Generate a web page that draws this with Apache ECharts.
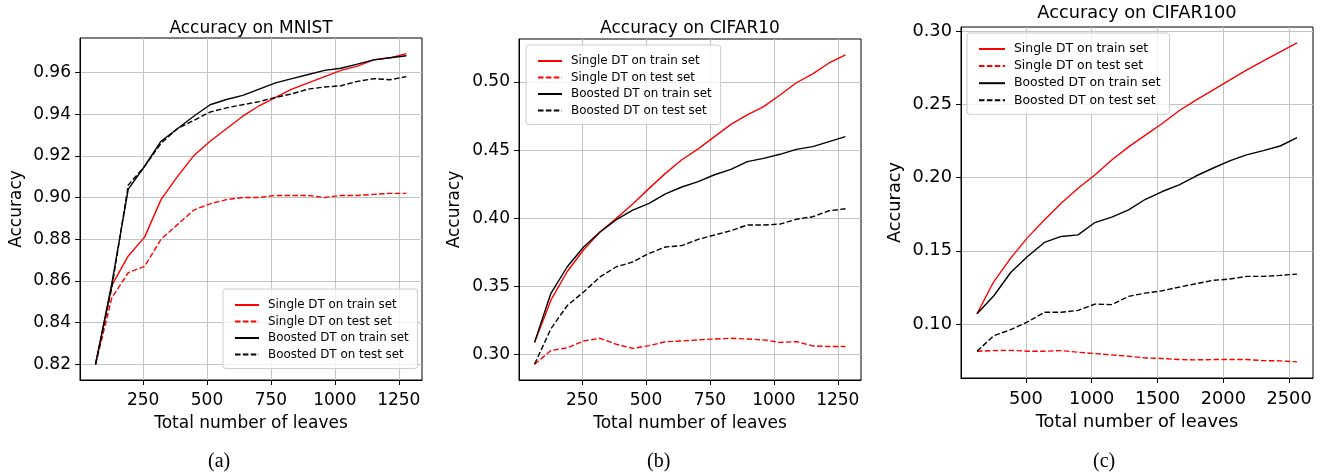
<!DOCTYPE html>
<html>
<head>
<meta charset="utf-8">
<script src="https://cdn.jsdelivr.net/npm/echarts@6/dist/echarts.min.js"></script>
<style>
html,body{margin:0;padding:0;background:#fff;}
#chart{width:1320px;height:472px;}
</style>
</head>
<body>
<div id="chart"></div>
<script>
// ---------- data ----------
const seriesNames = ['Single DT on train set', 'Single DT on test set', 'Boosted DT on train set', 'Boosted DT on test set'];

const leavesSmall = [64,128,192,256,320,384,448,512,576,640,704,768,832,896,960,1024,1088,1152,1216,1280];
const leavesLarge = [128,256,384,512,640,768,896,1024,1152,1280,1408,1536,1664,1792,1920,2048,2176,2304,2432,2560];

const mnistSingleTrain  = [0.820,0.858,0.872,0.881,0.899,0.910,0.920,0.927,0.933,0.939,0.944,0.948,0.952,0.955,0.958,0.961,0.963,0.966,0.967,0.969];
const mnistSingleTest   = [0.820,0.852,0.864,0.867,0.880,0.887,0.894,0.897,0.899,0.900,0.900,0.901,0.901,0.901,0.900,0.901,0.901,0.9015,0.902,0.902];
const mnistBoostedTrain = [0.820,0.859,0.904,0.915,0.927,0.933,0.939,0.9445,0.947,0.949,0.952,0.955,0.957,0.959,0.961,0.962,0.964,0.966,0.967,0.968];
const mnistBoostedTest  = [0.820,0.857,0.906,0.915,0.926,0.933,0.937,0.941,0.943,0.9445,0.946,0.948,0.9497,0.952,0.953,0.9536,0.9557,0.957,0.9565,0.958];

const cifar10SingleTrain  = [0.309,0.340,0.361,0.377,0.390,0.400,0.4105,0.422,0.433,0.443,0.451,0.460,0.469,0.476,0.482,0.4905,0.4995,0.506,0.514,0.520];
const cifar10SingleTest   = [0.293,0.303,0.305,0.310,0.312,0.3076,0.3046,0.3066,0.3095,0.310,0.3108,0.3115,0.312,0.3115,0.3108,0.309,0.3095,0.3064,0.306,0.306];
const cifar10BoostedTrain = [0.309,0.345,0.3645,0.379,0.390,0.399,0.406,0.411,0.418,0.423,0.427,0.432,0.436,0.4416,0.444,0.447,0.4506,0.4526,0.4563,0.460];
const cifar10BoostedTest  = [0.293,0.319,0.336,0.346,0.357,0.3645,0.368,0.3743,0.379,0.380,0.3846,0.3878,0.391,0.3951,0.3951,0.3958,0.3993,0.4012,0.4056,0.407];

const cifar100SingleTrain  = [0.107,0.129,0.145,0.159,0.171,0.1825,0.1927,0.2018,0.212,0.221,0.229,0.237,0.2457,0.253,0.2598,0.2666,0.2734,0.2798,0.2859,0.292];
const cifar100SingleTest   = [0.0814,0.0818,0.082,0.0814,0.0814,0.0818,0.0807,0.0798,0.0789,0.078,0.0768,0.0764,0.0757,0.0755,0.0757,0.0757,0.0757,0.075,0.0748,0.0741];
const cifar100BoostedTrain = [0.107,0.1193,0.1352,0.1461,0.1557,0.1598,0.1609,0.1693,0.173,0.178,0.1852,0.1905,0.195,0.2011,0.2064,0.2114,0.2155,0.2184,0.2216,0.2273];
const cifar100BoostedTest  = [0.0814,0.092,0.0961,0.1014,0.108,0.108,0.1093,0.1136,0.1132,0.1189,0.1211,0.1227,0.1252,0.1275,0.1298,0.1307,0.1325,0.1325,0.1332,0.1341];

const xTicksSmall = [250,500,750,1000,1250];
const xTicksLarge = [500,1000,1500,2000,2500];
const yTicksMnist = [0.82,0.84,0.86,0.88,0.90,0.92,0.94,0.96];
const yTicksCifar10 = [0.30,0.35,0.40,0.45,0.50];
const yTicksCifar100 = [0.10,0.15,0.20,0.25,0.30];

const titles = ['Accuracy on MNIST','Accuracy on CIFAR10','Accuracy on CIFAR100'];
const captions = ['(a)','(b)','(c)'];
const xName = 'Total number of leaves';
const yName = 'Accuracy';

// ---------- build ----------
const FONT = 'DejaVu Sans';
const panels = [
  {grid:{left:80,top:38,width:342,height:342}, xr:[3.2,1340.8], yr:[0.8125,0.9765], xt:xTicksSmall, yt:yTicksMnist,
   x:leavesSmall, d:[mnistSingleTrain,mnistSingleTest,mnistBoostedTrain,mnistBoostedTest],
   fs:17, lfs:11.9, titleX:251, titleY:20, capX:218, yGap:55, legend:{left:223,top:289}, iw:24, rowH:17},
  {grid:{left:519,top:39,width:342,height:341}, xr:[3.2,1340.8], yr:[0.2814,0.5316], xt:xTicksSmall, yt:yTicksCifar10,
   x:leavesSmall, d:[cifar10SingleTrain,cifar10SingleTest,cifar10BoostedTrain,cifar10BoostedTest],
   fs:17, lfs:11.9, titleX:690, titleY:20, capX:657, yGap:56, legend:{left:526,top:45}, iw:24, rowH:17},
  {grid:{left:961,top:27,width:352,height:351}, xr:[6.4,2681.6], yr:[0.0631,0.3029], xt:xTicksLarge, yt:yTicksCifar100,
   x:leavesLarge, d:[cifar100SingleTrain,cifar100SingleTest,cifar100BoostedTrain,cifar100BoostedTest],
   fs:17.8, lfs:12.4, titleX:1137, titleY:4, capX:1103, yGap:57, legend:{left:967,top:33}, iw:26, rowH:17.6}
];
const styles = [
  {color:'#ff0000', type:'solid'},
  {color:'#ff0000', type:[5.5,2.4]},
  {color:'#000000', type:'solid'},
  {color:'#000000', type:[5.5,2.4]}
];

const option = {
  animation:false,
  backgroundColor:'#fff',
  textStyle:{fontFamily:FONT},
  title:[], grid:[], xAxis:[], yAxis:[], series:[], legend:[], graphic:[]
};

panels.forEach((p,i)=>{
  option.title.push({text:titles[i], left:p.titleX, top:p.titleY, textAlign:'center', padding:0,
    textStyle:{fontFamily:FONT, fontSize:p.fs, fontWeight:'normal', color:'#000'}});
  option.grid.push(Object.assign({show:true, borderColor:'#000', borderWidth:1, backgroundColor:'transparent'}, p.grid));
  option.xAxis.push({type:'value', gridIndex:i, min:p.xr[0], max:p.xr[1],
    name:xName, nameLocation:'middle', nameGap:35,
    nameTextStyle:{fontFamily:FONT, fontSize:p.fs, color:'#000'},
    axisLine:{show:true, onZero:false, lineStyle:{color:'#000', width:1}},
    axisTick:{show:true, inside:false, length:5, customValues:p.xt, lineStyle:{color:'#000'}},
    axisLabel:{customValues:p.xt, fontFamily:FONT, fontSize:p.fs, color:'#000', margin:12, formatter:v=>String(Math.round(v))},
    splitLine:{show:true, lineStyle:{color:'#c4c4c4', width:1}}
  });
  option.yAxis.push({type:'value', gridIndex:i, min:p.yr[0], max:p.yr[1],
    name:yName, nameLocation:'middle', nameGap:p.yGap, nameRotate:90,
    nameTextStyle:{fontFamily:FONT, fontSize:p.fs, color:'#000'},
    axisLine:{show:true, onZero:false, lineStyle:{color:'#000', width:1}},
    axisTick:{show:true, inside:false, length:5, customValues:p.yt, lineStyle:{color:'#000'}},
    axisLabel:{customValues:p.yt, fontFamily:FONT, fontSize:p.fs, color:'#000', margin:9, formatter:v=>v.toFixed(2)},
    splitLine:{show:true, lineStyle:{color:'#c4c4c4', width:1}}
  });
  p.d.forEach((vals,k)=>{
    option.series.push({type:'line', name:seriesNames[k], xAxisIndex:i, yAxisIndex:i,
      data:p.x.map((x,j)=>[x,vals[j]]), symbol:'none', smooth:false,
      lineStyle:{color:styles[k].color, type:styles[k].type, width:1.4},
      itemStyle:{color:styles[k].color}, z:2});
  });
  option.legend.push({data:seriesNames.slice(), orient:'vertical', left:p.legend.left, top:p.legend.top,
    itemWidth:p.iw, itemHeight:14, itemGap:p.rowH-12.5, selectedMode:false,
    padding:[10,9,8,11], backgroundColor:'rgba(255,255,255,0.8)', borderColor:'#cccccc', borderWidth:1, borderRadius:3,
    itemStyle:{opacity:0, borderWidth:0},
    textStyle:{fontFamily:FONT, fontSize:p.lfs, color:'#000', padding:[0,0,0,4]},
    z:10});
  option.graphic.push({type:'text', left:p.capX-10, top:452, style:{text:captions[i], fontFamily:'Liberation Serif', fontSize:20, fill:'#000'}});
});

const chart = echarts.init(document.getElementById('chart'), null, {renderer:'canvas'});
chart.setOption(option);
</script>
</body>
</html>
